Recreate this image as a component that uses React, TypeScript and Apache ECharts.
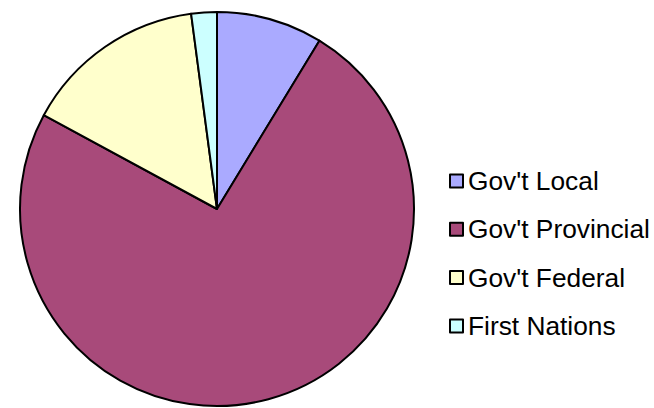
import React, { useEffect, useRef } from "react";
import * as echarts from "echarts";

const categories = ["Gov't Local", "Gov't Provincial", "Gov't Federal", "First Nations"];
const values = [8.7, 74.2, 15.0, 2.1];
const colors = ["#AAAAFF", "#A84A7A", "#FFFFCC", "#CCFFFF"];

export default function App() {
  const ref = useRef<HTMLDivElement>(null);
  useEffect(() => {
    const chart = echarts.init(ref.current!, null, { renderer: "svg" });
    chart.setOption({
      animation: false,
      color: colors,
      legend: {
        orient: "vertical",
        left: 449,
        top: 167,
        padding: 0,
        icon: "rect",
        itemWidth: 13,
        itemHeight: 13,
        itemGap: 20.3,
        itemStyle: { borderColor: "#000", borderWidth: 2 },
        textStyle: { fontFamily: "Liberation Sans, Arial, sans-serif", fontSize: 26.3, color: "#000", lineHeight: 28 },
        data: categories,
      },
      series: [
        {
          type: "pie",
          center: [217, 209],
          radius: 197,
          startAngle: 90,
          clockwise: true,
          label: { show: false },
          labelLine: { show: false },
          emphasis: { disabled: true },
          itemStyle: { borderColor: "#000", borderWidth: 2 },
          data: categories.map((c, i) => ({ name: c, value: values[i] })),
        },
      ],
    });
    return () => chart.dispose();
  }, []);
  return <div ref={ref} style={{ width: 654, height: 408, position: "absolute", left: 0, top: 0 }} />;
}
